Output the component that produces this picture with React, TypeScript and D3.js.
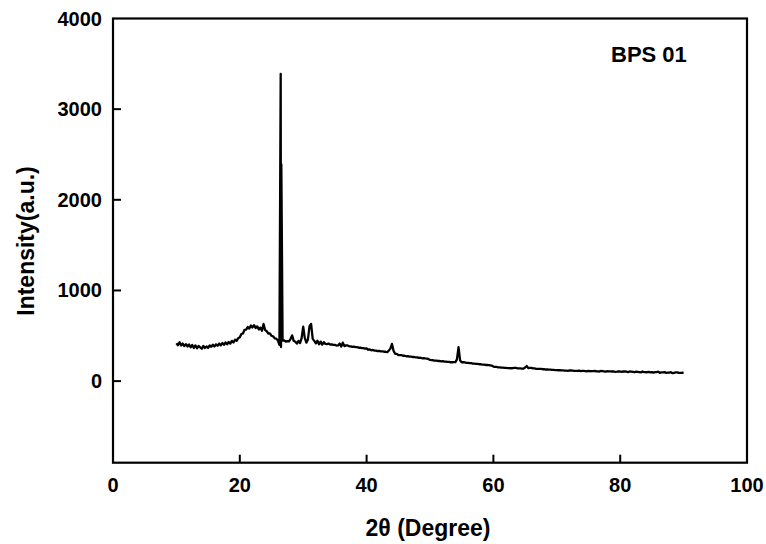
import React from "react";
import * as d3 from "d3";

// 2θ grid start/step for the scanned intensities
const thetaStart = 10;
const thetaStep = 0.25;

// Intensity (a.u.), 10° → 90° every 0.25°
const intensity: number[] = [
  418, 396, 428, 392, 414, 386, 408, 382, 404, 374, 398, 366, 394, 362, 388, 372, 358, 388, 366, 382,
  368, 394, 378, 402, 382, 406, 390, 414, 394, 420, 400, 426, 406, 432, 414, 444, 426, 456, 444, 474,
  484, 520, 526, 566, 568, 596, 580, 614, 592, 618, 586, 604, 570, 590, 556, 630, 562, 550, 524, 526,
  500, 494, 472, 468, 450, 400, 375, 446, 450, 436, 442, 438, 464, 505, 444, 434, 414, 444, 420, 474,
  600, 476, 424, 460, 606, 630, 466, 444, 416, 446, 406, 436, 402, 430, 410, 408, 414, 404, 406, 400,
  400, 392, 394, 414, 380, 424, 386, 394, 394, 384, 384, 378, 380, 374, 374, 368, 370, 364, 364, 358,
  360, 346, 350, 340, 344, 336, 336, 330, 334, 328, 328, 324, 324, 318, 336, 358, 410, 334, 302, 300,
  288, 286, 286, 280, 280, 274, 276, 270, 270, 266, 266, 262, 262, 256, 258, 252, 254, 250, 248, 244,
  234, 232, 230, 226, 226, 222, 222, 218, 220, 214, 216, 212, 212, 208, 208, 209, 210, 240, 375, 228,
  208, 208, 206, 202, 202, 198, 198, 194, 194, 190, 190, 186, 186, 182, 182, 178, 178, 176, 174, 172,
  160, 156, 156, 152, 152, 148, 148, 146, 146, 144, 144, 142, 142, 146, 146, 142, 140, 140, 138, 138,
  150, 166, 143, 146, 146, 140, 140, 136, 136, 134, 134, 131, 131, 128, 128, 126, 126, 124, 124, 122,
  122, 120, 120, 118, 118, 116, 116, 114, 118, 117, 115, 112, 113, 114, 116, 110, 112, 112, 110, 108,
  113, 109, 110, 111, 114, 108, 108, 106, 112, 110, 106, 104, 110, 108, 108, 106, 106, 102, 104, 108,
  106, 102, 108, 106, 104, 100, 106, 104, 102, 98, 104, 102, 100, 96, 106, 100, 98, 98, 102, 96,
  100, 94, 98, 100, 104, 92, 96, 96, 100, 90, 94, 94, 98, 88, 92, 96, 96, 90, 90, 92,
  92,
];

// Sharp quartz reflection (two-line spike) near 26.5°
const spikeTheta: number[] = [26.45, 26.55];
const spikeIntensity: number[] = [3390, 2390];

const xTicks = [0, 20, 40, 60, 80, 100];
const yTicks = [0, 1000, 2000, 3000, 4000];
const xDomain: [number, number] = [0, 100];
const yDomain: [number, number] = [-900, 4000];

const W = 766;
const H = 544;
const left = 113;
const right = 747;
const top = 18.5;
const bottom = 462.7;

export default function App() {
  const x = d3.scaleLinear().domain(xDomain).range([left, right]);
  const y = d3.scaleLinear().domain(yDomain).range([bottom, top]);

  const pts: [number, number][] = intensity.map((v, i) => [thetaStart + i * thetaStep, v]);
  spikeTheta.forEach((t, i) => pts.push([t, spikeIntensity[i]]));
  pts.sort((a, b) => a[0] - b[0]);

  const line = d3
    .line<[number, number]>()
    .x((d) => x(d[0]))
    .y((d) => y(d[1]));

  const font = "'Liberation Sans', Arial, sans-serif";

  return (
    <svg
      width={W}
      height={H}
      style={{ position: "absolute", left: 0, top: 0, background: "#fff" }}
      fontFamily={font}
    >
      <rect x={0} y={0} width={W} height={H} fill="#fff" />
      <path d={line(pts) || ""} fill="none" stroke="#000" strokeWidth={2.3} strokeLinejoin="round" />
      {/* frame */}
      <rect
        x={left}
        y={top}
        width={right - left}
        height={bottom - top}
        fill="none"
        stroke="#000"
        strokeWidth={2.2}
      />
      {/* y ticks */}
      {yTicks.map((t) => (
        <g key={"y" + t}>
          {t < yDomain[1] && (
            <line x1={left} x2={left + 8} y1={y(t)} y2={y(t)} stroke="#000" strokeWidth={2} />
          )}
          <text
            x={102}
            y={y(t)}
            textAnchor="end"
            dominantBaseline="central"
            fontSize={20}
            fontWeight="bold"
          >
            {t}
          </text>
        </g>
      ))}
      {/* x ticks */}
      {xTicks.map((t) => (
        <g key={"x" + t}>
          {t > xDomain[0] && t < xDomain[1] && (
            <line x1={x(t)} x2={x(t)} y1={bottom} y2={bottom - 8} stroke="#000" strokeWidth={2} />
          )}
          <text x={x(t)} y={492} textAnchor="middle" fontSize={20} fontWeight="bold">
            {t}
          </text>
        </g>
      ))}
      <text x={(left + right) / 2 - 2} y={536} textAnchor="middle" fontSize={23} fontWeight="bold">
        2θ (Degree)
      </text>
      <text
        transform={`translate(34, 241) rotate(-90)`}
        textAnchor="middle"
        fontSize={23}
        fontWeight="bold"
      >
        Intensity(a.u.)
      </text>
      <text x={611} y={62} fontSize={22} fontWeight="bold">
        BPS 01
      </text>
    </svg>
  );
}
